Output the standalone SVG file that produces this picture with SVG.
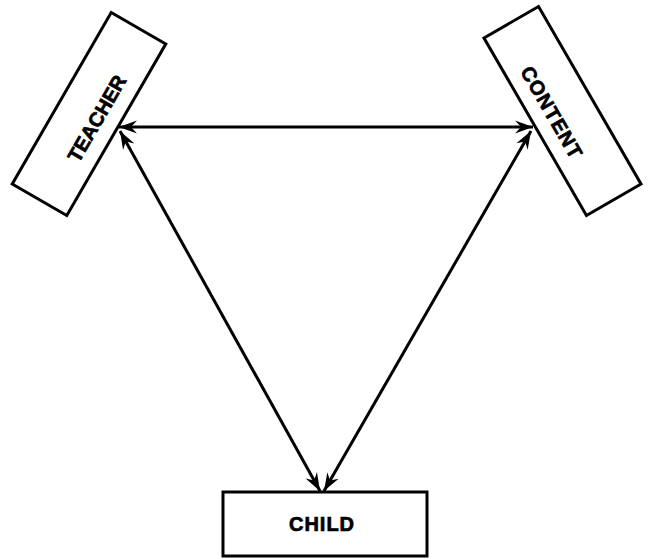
<svg xmlns="http://www.w3.org/2000/svg" width="648" height="559" viewBox="0 0 648 559">
<style>
.box{fill:#fff;stroke:#000;stroke-width:3}
.lbl{font-family:"Liberation Sans",Arial,sans-serif;font-weight:bold;font-size:20px;fill:#000;stroke:#000;stroke-width:0.7;text-anchor:middle}
.conn{stroke:#000;stroke-width:3;fill:none;marker-start:url(#ah);marker-end:url(#ah)}
</style>
<defs>
<marker id="ah" markerUnits="userSpaceOnUse" viewBox="-19 -9 21 18" refX="0" refY="0" markerWidth="21" markerHeight="18" orient="auto-start-reverse">
<path d="M0,0 L-18,-6.5 L-12,0 L-18,6.5 Z" fill="#000"/>
</marker>
</defs>
<rect width="648" height="559" fill="#fff"/>
<g id="teacher" transform="translate(89,114) rotate(-60)">
<rect class="box" x="-99" y="-31.5" width="198" height="63"/>
<text class="lbl" x="0" y="16">TEACHER</text>
</g>
<g id="content" transform="translate(562.5,111) rotate(60)">
<rect class="box" x="-102.5" y="-31.5" width="205" height="63"/>
<text class="lbl" x="-4" y="17" letter-spacing="1">CONTENT</text>
</g>
<g id="child">
<rect class="box" x="223" y="492" width="204" height="64"/>
<text class="lbl" x="322" y="531" letter-spacing="1">CHILD</text>
</g>
<g id="connectors">
<line class="conn" x1="119" y1="127" x2="533" y2="127"/>
<line class="conn" x1="120" y1="131" x2="320" y2="491"/>
<line class="conn" x1="531" y1="131" x2="324" y2="491"/>
</g>
</svg>
